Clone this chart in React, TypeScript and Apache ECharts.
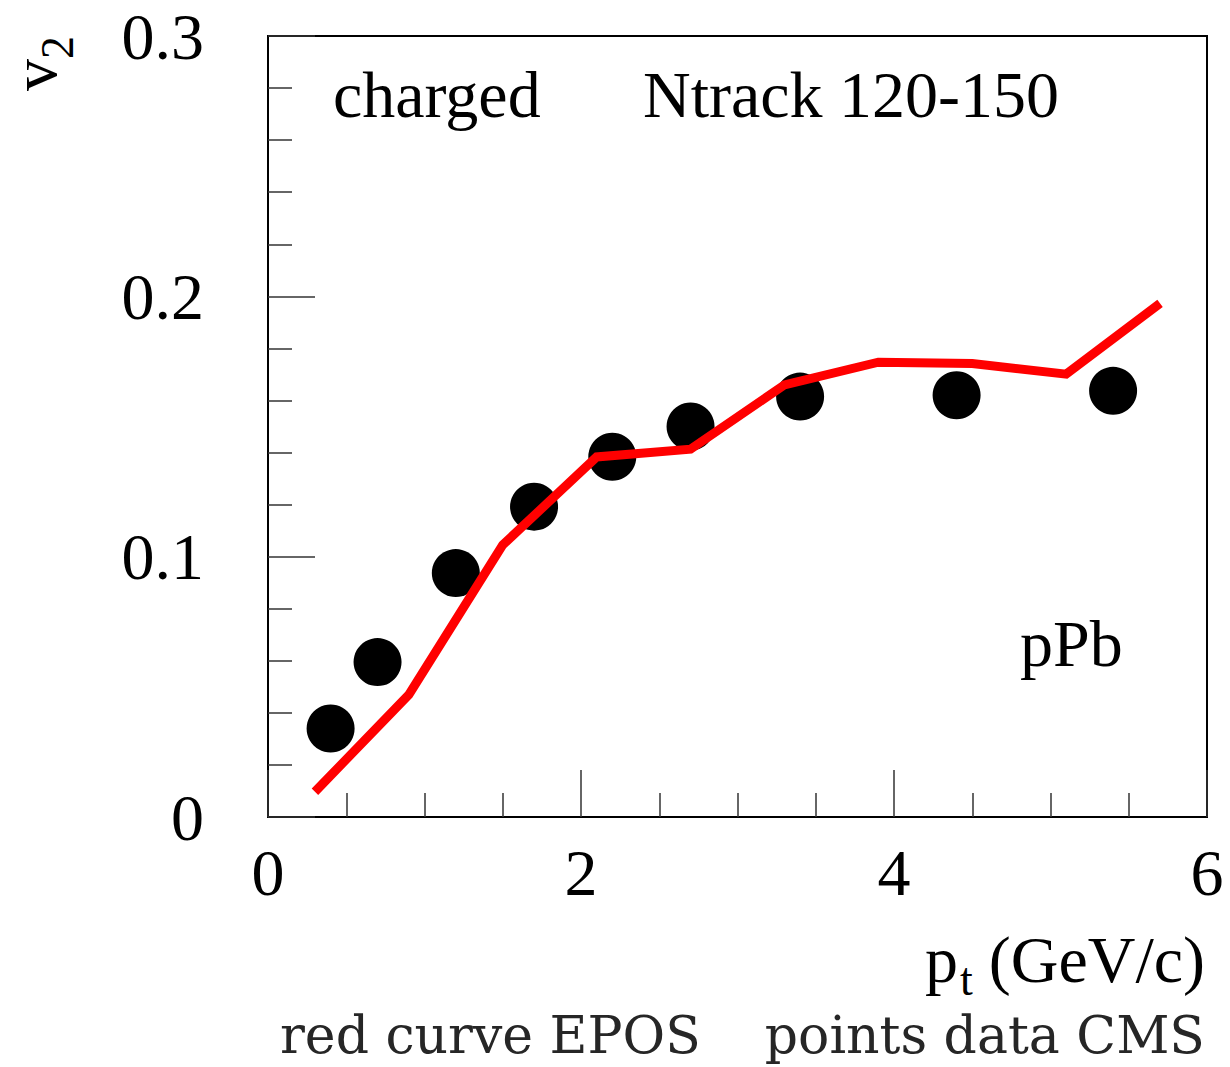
import React, { useEffect, useRef } from "react";
import * as echarts from "echarts";

// CMS data points (pt, v2)
const cmsPt = [0.4, 0.7, 1.2, 1.7, 2.2, 2.7, 3.4, 4.4, 5.4];
const cmsV2 = [0.034, 0.0595, 0.0937, 0.1192, 0.1384, 0.15, 0.1615, 0.162, 0.1637];

// EPOS curve (pt, v2)
const eposPt = [0.3, 0.9, 1.5, 2.1, 2.7, 3.3, 3.9, 4.5, 5.1, 5.7];
const eposV2 = [0.0097, 0.047, 0.1045, 0.1383, 0.1413, 0.166, 0.1747, 0.1742, 0.1701, 0.1973];

const xTicks = { min: 0, max: 6, interval: 2 };
const yTicks = { min: 0, max: 0.3, interval: 0.1 };

const SERIF = "'Liberation Serif', 'Times New Roman', serif";
const BIG = 66;
const mid = (baseline: number, size: number) => baseline - 0.34 * size;

export default function App() {
  const ref = useRef<HTMLDivElement>(null);
  useEffect(() => {
    if (!ref.current) return;
    const chart = echarts.init(ref.current, undefined, { renderer: "svg" });
    const txt = (
      text: string,
      x: number,
      y: number,
      size: number,
      align: string = "left",
      extra: any = {},
      family: string = SERIF,
      color: string = "#000"
    ) => ({
      type: "text",
      x,
      y,
      ...extra,
      style: {
        text,
        fontFamily: family,
        fontSize: size,
        fill: color,
        textAlign: align,
        textVerticalAlign: "middle",
      },
      z: 100,
    });
    chart.setOption({
      animation: false,
      backgroundColor: "#fff",
      grid: {
        left: 268,
        right: 23,
        top: 36,
        bottom: 250,
        show: true,
        borderColor: "#000",
        borderWidth: 2,
        backgroundColor: "transparent",
      },
      xAxis: {
        type: "value",
        min: xTicks.min,
        max: xTicks.max,
        interval: xTicks.interval,
        axisLine: { show: false },
        splitLine: { show: false },
        axisTick: { show: true, inside: true, length: 47, lineStyle: { color: "#333", width: 1.5 } },
        minorTick: { show: true, splitNumber: 4, length: 24, lineStyle: { color: "#333", width: 1.5 } },
        axisLabel: { fontFamily: SERIF, fontSize: BIG, color: "#000", margin: 22 },
      },
      yAxis: {
        type: "value",
        min: yTicks.min,
        max: yTicks.max,
        interval: yTicks.interval,
        axisLine: { show: false },
        splitLine: { show: false },
        axisTick: { show: true, inside: true, length: 47, lineStyle: { color: "#333", width: 1.5 } },
        minorTick: { show: true, splitNumber: 5, length: 24, lineStyle: { color: "#333", width: 1.5 } },
        axisLabel: { fontFamily: SERIF, fontSize: BIG, color: "#000", margin: 64 },
      },
      series: [
        {
          type: "scatter",
          data: cmsPt.map((p, i) => [p, cmsV2[i]]),
          symbol: "circle",
          symbolSize: 48,
          itemStyle: { color: "#000", opacity: 1 },
          z: 2,
        },
        {
          type: "line",
          data: eposPt.map((p, i) => [p, eposV2[i]]),
          showSymbol: false,
          symbol: "none",
          lineStyle: { color: "#ff0000", width: 9, join: "miter", opacity: 1 },
          z: 3,
        },
      ],
      graphic: [
        txt("v", 34, 91, 64, "left", { rotation: Math.PI / 2 }),
        txt("2", 57, 59, 46, "left", { rotation: Math.PI / 2 }),
        txt("charged", 333, mid(117, BIG), BIG),
        txt("Ntrack 120-150", 643, mid(117, BIG), BIG),
        txt("pPb", 1020, mid(666, BIG), BIG),
        txt("p", 925, mid(982, BIG), BIG),
        txt("t", 960, mid(995, 46), 46),
        txt("(GeV/c)", 1205, mid(982, BIG), BIG, "right"),
        txt("red curve EPOS", 280, 1053 - 0.346 * 52, 52, "left", {}, "'DejaVu Serif', serif", "#262626"),
        txt("points data CMS", 1205, 1053 - 0.346 * 52, 52, "right", {}, "'DejaVu Serif', serif", "#262626"),
      ],
    });
    return () => chart.dispose();
  }, []);
  return (
    <div
      ref={ref}
      style={{ position: "fixed", left: 0, top: 0, width: 1230, height: 1067 }}
    />
  );
}
